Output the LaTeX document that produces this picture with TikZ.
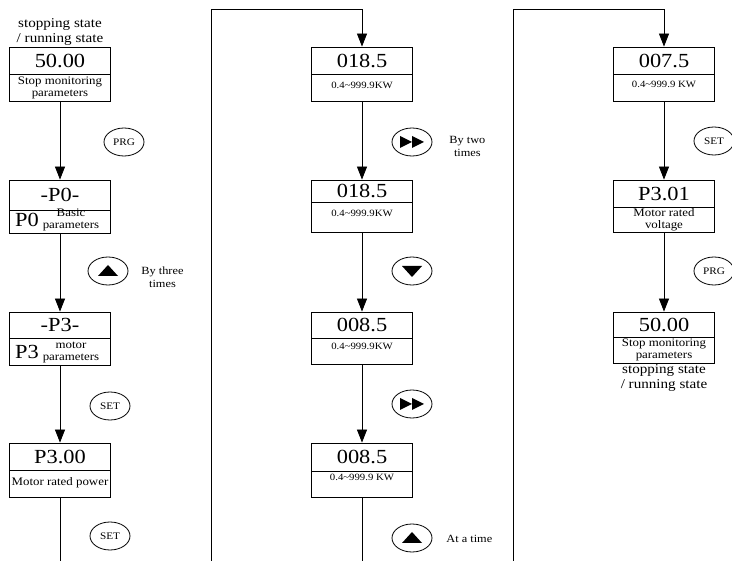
\documentclass[tikz,border=0pt]{standalone}
\usepackage{fontspec}
\setmainfont{Liberation Serif}[FakeStretch=1.12]
\usetikzlibrary{shapes.geometric,arrows.meta}
\tikzset{
  panel/.style={draw, rectangle, minimum width=101pt, inner sep=0pt},
  bignum/.style={font=\fontsize{20}{20}\selectfont, inner sep=0pt},
  desc/.style={font=\fontsize{11.5}{12}\selectfont, align=center, inner sep=0pt},
  rangetxt/.style={font=\fontsize{9.6}{10}\selectfont, inner sep=0pt},
  statetxt/.style={font=\fontsize{13.5}{15}\selectfont, align=center, inner sep=1pt},
  keyell/.style={draw, ellipse, minimum width=40pt, minimum height=28pt, inner sep=0pt, font=\fontsize{10}{10}\selectfont},
  note/.style={font=\fontsize{11}{13}\selectfont, align=center, inner sep=0pt, anchor=west},
  flow/.style={-{Triangle[length=13pt,width=10pt]}},
}
\newcommand\mypanel[5]{%
  \pgfmathsetmacro\mph{#5-#3}%
  \pgfmathsetmacro\mpy{(#3+#5)/2}%
  \node[panel, minimum height=\mph pt] (#1) at (#2,\mpy) {};
  \draw (#1.west |- 0,#4) -- (#1.east |- 0,#4);
}
\begin{document}
\begin{tikzpicture}[x=1pt, y=-1pt, line width=0.8pt]
\useasboundingbox (0,0) rectangle (732,561);

% ---------- left column ----------
\mypanel{L1}{60}{47}{74}{101}
\node[bignum] at (60,60.5) {50.00};
\node[desc] at (60,87.5) {Stop monitoring\\parameters};
\node[statetxt, anchor=south] (st1) at (60,47) {stopping state\\/ running state};

\mypanel{L2}{60}{180}{210}{233}
\node[bignum] at (60,195) {-P0-};
\node[bignum, anchor=base] at (27,227) {P0};
\node[desc, anchor=base] at (71,217) {Basic};
\node[desc, anchor=base] at (71,229) {parameters};

\mypanel{L3}{60}{312}{338}{365}
\node[bignum] at (60,325) {-P3-};
\node[bignum, anchor=base] at (27,359) {P3};
\node[desc, anchor=base] at (71,349) {motor};
\node[desc, anchor=base] at (71,361) {parameters};

\mypanel{L4}{60}{443}{470}{497}
\node[bignum] at (60,456.5) {P3.00};
\node[desc] at (60,483) {Motor rated power};

\node[keyell] (kprg1) at (124,142) {PRG};
\node[keyell] (kup1) at (108,271) {};
\fill[shift={(kup1.center)}] (0,-6) -- (-10,5) -- (10,5) -- cycle;
\node[note] at (141,277) {By three\\times};
\node[keyell] (kset1) at (110,406) {SET};
\node[keyell] (kset2) at (110,536) {SET};

\coordinate (lend) at (60,561);
\draw[flow] (L1) -- (L2);
\draw[flow] (L2) -- (L3);
\draw[flow] (L3) -- (L4);
\draw (L4) -- (lend);

% ---------- middle column ----------
\mypanel{M1}{362}{47}{74}{101}
\node[bignum] at (362,60.5) {018.5};
\node[rangetxt] at (362,85) {0.4\textasciitilde999.9KW};

\mypanel{M2}{362}{180}{202}{232}
\node[bignum] at (362,191) {018.5};
\node[rangetxt] at (362,213) {0.4\textasciitilde999.9KW};

\mypanel{M3}{362}{312}{338}{364}
\node[bignum] at (362,325) {008.5};
\node[rangetxt] at (362,346) {0.4\textasciitilde999.9KW};

\mypanel{M4}{362}{443}{471}{497}
\node[bignum] at (362,457) {008.5};
\node[rangetxt] at (362,477) {0.4\textasciitilde999.9 KW};

\node[keyell] (kff1) at (412,142) {};
\fill[shift={(kff1.center)}] (-12,-6) -- (-12,6) -- (0,0) -- cycle (0,-6) -- (0,6) -- (12,0) -- cycle;
\node[note] at (449,146) {By two\\times};
\node[keyell] (kdn1) at (412,271) {};
\fill[shift={(kdn1.center)}] (0,6) -- (-10,-5) -- (10,-5) -- cycle;
\node[keyell] (kff2) at (412,404) {};
\fill[shift={(kff2.center)}] (-12,-6) -- (-12,6) -- (0,0) -- cycle (0,-6) -- (0,6) -- (12,0) -- cycle;
\node[keyell] (kup2) at (412,538) {};
\fill[shift={(kup2.center)}] (0,-6) -- (-10,5) -- (10,5) -- cycle;
\node[note] at (446,539) {At a time};

\coordinate (c1b) at (211,561);
\coordinate (c1t) at (211,9);
\coordinate (mend) at (362,561);
\draw[flow] (c1b) -- (c1t) -| (M1);
\draw[flow] (M1) -- (M2);
\draw[flow] (M2) -- (M3);
\draw[flow] (M3) -- (M4);
\draw (M4) -- (mend);

% ---------- right column ----------
\mypanel{R1}{664}{47}{74}{101}
\node[bignum] at (664,60.5) {007.5};
\node[rangetxt] at (664,84) {0.4\textasciitilde999.9 KW};

\mypanel{R2}{664}{180}{207}{232}
\node[bignum] at (664,193.5) {P3.01};
\node[desc] at (664,219.5) {Motor rated\\voltage};

\mypanel{R3}{664}{312}{337}{363}
\node[bignum] at (664,324.5) {50.00};
\node[desc] at (664,350) {Stop monitoring\\parameters};
\node[statetxt, anchor=north] (st2) at (664,363) {stopping state\\/ running state};

\node[keyell] (kset3) at (714,141) {SET};
\node[keyell] (kprg2) at (714,271) {PRG};

\coordinate (c2b) at (513,561);
\coordinate (c2t) at (513,9);
\draw[flow] (c2b) -- (c2t) -| (R1);
\draw[flow] (R1) -- (R2);
\draw[flow] (R2) -- (R3);
\end{tikzpicture}
\end{document}
